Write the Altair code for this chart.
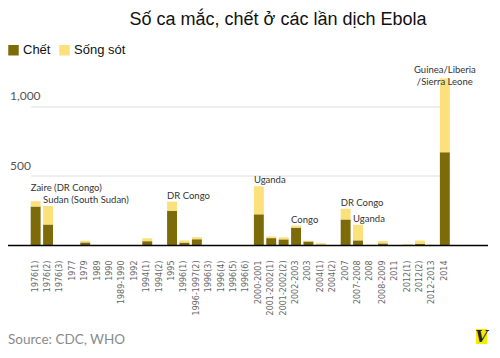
import altair as alt
import pandas as pd

categories = ["1976(1)", "1976(2)", "1976(3)", "1977", "1979", "1989", "1990", "1989-1990",
              "1992", "1994(1)", "1994(2)", "1995", "1996(1)", "1996-1997(2)", "1996(3)",
              "1996(4)", "1996(5)", "1996(6)", "2000-2001", "2001-2002(1)", "2001-2002(2)",
              "2002-2003", "2003", "2004(1)", "2004(2)", "2007", "2007-2008", "2008",
              "2008-2009", "2011", "2012(1)", "2012(2)", "2012-2013", "2014"]
cases = [318, 284, 1, 1, 34, 3, 4, 3, 0, 52, 1, 315, 37, 60, 2, 0, 0, 1, 425, 65, 59,
         143, 35, 17, 1, 264, 149, 6, 32, 1, 11, 36, 6, 1200]
deaths = [280, 151, 0, 1, 22, 0, 0, 0, 0, 31, 0, 250, 21, 45, 1, 0, 0, 1, 224, 53, 44,
          128, 29, 7, 1, 187, 37, 0, 15, 1, 4, 13, 3, 670]

status_names = ["Chết", "Sống sót"]
status_colors = ["#7d6b0a", "#fbe07c"]

annot_cats = ["1976(2)", "1995", "2000-2001", "2002-2003", "2007", "2007-2008"]
annot_texts = ["Sudan (South Sudan)", "DR Congo", "Uganda", "Congo", "DR Congo", "Uganda"]
annot_high_cats = ["1976(1)"]
annot_high_texts = ["Zaire (DR Congo)"]
annot_top_cats = ["2014"]
annot_top_texts = ["Guinea/Liberia\n/Sierra Leone"]

y_ticks = [500, 1000]

title_text = "Số ca mắc, chết ở các lần dịch Ebola"
source_text = "Source: CDC, WHO"

# ---- tables ----
rows = []
for c, d, t in zip(categories, deaths, cases):
    rows.append({"cat": c, "status": status_names[0], "value": d, "ord": 0})
    rows.append({"cat": c, "status": status_names[1], "value": t - d, "ord": 1})
bars_df = pd.DataFrame(rows)
totals = dict(zip(categories, cases))


def annot_df(cats, texts):
    return pd.DataFrame({"cat": cats, "label": texts, "total": [totals[c] for c in cats]})


xscale = alt.Scale(domain=categories, paddingInner=0.2, paddingOuter=0, range=[22.7, 441.8])
yscale = alt.Scale(domain=[0, 1250], nice=False)

x_enc = alt.X("cat:N", sort=categories, scale=xscale,
              axis=alt.Axis(title=None, labelAngle=-90, labelAlign="right",
                            labelBaseline="middle", ticks=False, labelPadding=14.5,
                            domain=False,
                            labelFont="DejaVu Sans", labelFontSize=8,
                            labelColor="#666666", grid=False, labelOverlap=False))

bars = alt.Chart(bars_df).mark_bar().encode(
    x=x_enc,
    y=alt.Y("value:Q", stack="zero", scale=yscale,
            axis=alt.Axis(values=y_ticks, grid=True, gridColor="#dddddd", labels=False,
                          ticks=False, domain=False, title=None)),
    color=alt.Color("status:N", scale=alt.Scale(domain=status_names, range=status_colors),
                    legend=alt.Legend(title=None, orient="none", direction="horizontal",
                                      legendX=-1, legendY=-28, symbolType="square",
                                      symbolSize=110, symbolStrokeWidth=0,
                                      labelFont="Liberation Sans", labelFontSize=13,
                                      labelColor="#111111", columnPadding=7,
                                      labelOffset=3, symbolOpacity=1)),
    order=alt.Order("ord:Q"),
)

baseline = alt.Chart(pd.DataFrame({"z": [0]})).mark_rule(color="#000000", strokeWidth=1.5).encode(
    y=alt.Y("z:Q"), x=alt.value(0), x2=alt.value(480))

txt_style = dict(font="Lato", fontSize=9.5, color="#333333")

ann = alt.Chart(annot_df(annot_cats, annot_texts)).mark_text(
    align="left", baseline="middle", dy=-6, **txt_style).encode(
    x=alt.X("cat:N", sort=categories, bandPosition=0), y=alt.Y("total:Q"), text="label:N")

ann_high = alt.Chart(annot_df(annot_high_cats, annot_high_texts)).mark_text(
    align="left", baseline="middle", dy=-13, **txt_style).encode(
    x=alt.X("cat:N", sort=categories, bandPosition=0), y=alt.Y("total:Q"), text="label:N")

ann_top = alt.Chart(annot_df(annot_top_cats, annot_top_texts)).mark_text(
    align="center", baseline="bottom", dy=-3, lineBreak="\n", lineHeight=12,
    **txt_style).encode(
    x=alt.X("cat:N", sort=categories, bandPosition=0.5), y=alt.Y("total:Q"), text="label:N")

ylab = alt.Chart(pd.DataFrame({"v": y_ticks})).mark_text(
    align="left", baseline="middle", dy=-10, font="Lato", fontSize=12,
    color="#555555").encode(
    x=alt.value(2), y=alt.Y("v:Q"), text=alt.Text("v:Q", format=","))

title = alt.Chart(pd.DataFrame({"t": [title_text]})).mark_text(
    align="center", baseline="middle", font="Liberation Sans", fontSize=18,
    color="#111111").encode(x=alt.value(270), y=alt.value(-51.5), text="t:N")

source = alt.Chart(pd.DataFrame({"t": [source_text]})).mark_text(
    align="left", baseline="middle", font="Lato", fontSize=13.5,
    color="#8a8a8a").encode(x=alt.value(0), y=alt.value(268.5), text="t:N")

logo_box = alt.Chart(pd.DataFrame({"a": [0]})).mark_rect(color="#f5ec00").encode(
    x=alt.value(468), x2=alt.value(479), y=alt.value(257.5), y2=alt.value(272.5))
logo_v = alt.Chart(pd.DataFrame({"t": ["V"]})).mark_text(
    align="center", baseline="middle", font="DejaVu Serif", fontSize=16,
    fontWeight="bold", fontStyle="italic", color="#222233").encode(
    x=alt.value(473.5), y=alt.value(265), text="t:N")

chart = alt.layer(bars, baseline, ann, ann_high, ann_top, ylab, title, source,
                  logo_box, logo_v).properties(
    width=480, height=174,
    autosize=alt.AutoSizeParams(type="none"),
    padding={"left": 0, "top": 63.5, "right": 4, "bottom": 104},
    background="white",
).configure_view(stroke=None)

chart.save("out.html", embed_options={"renderer": "svg", "actions": False})
